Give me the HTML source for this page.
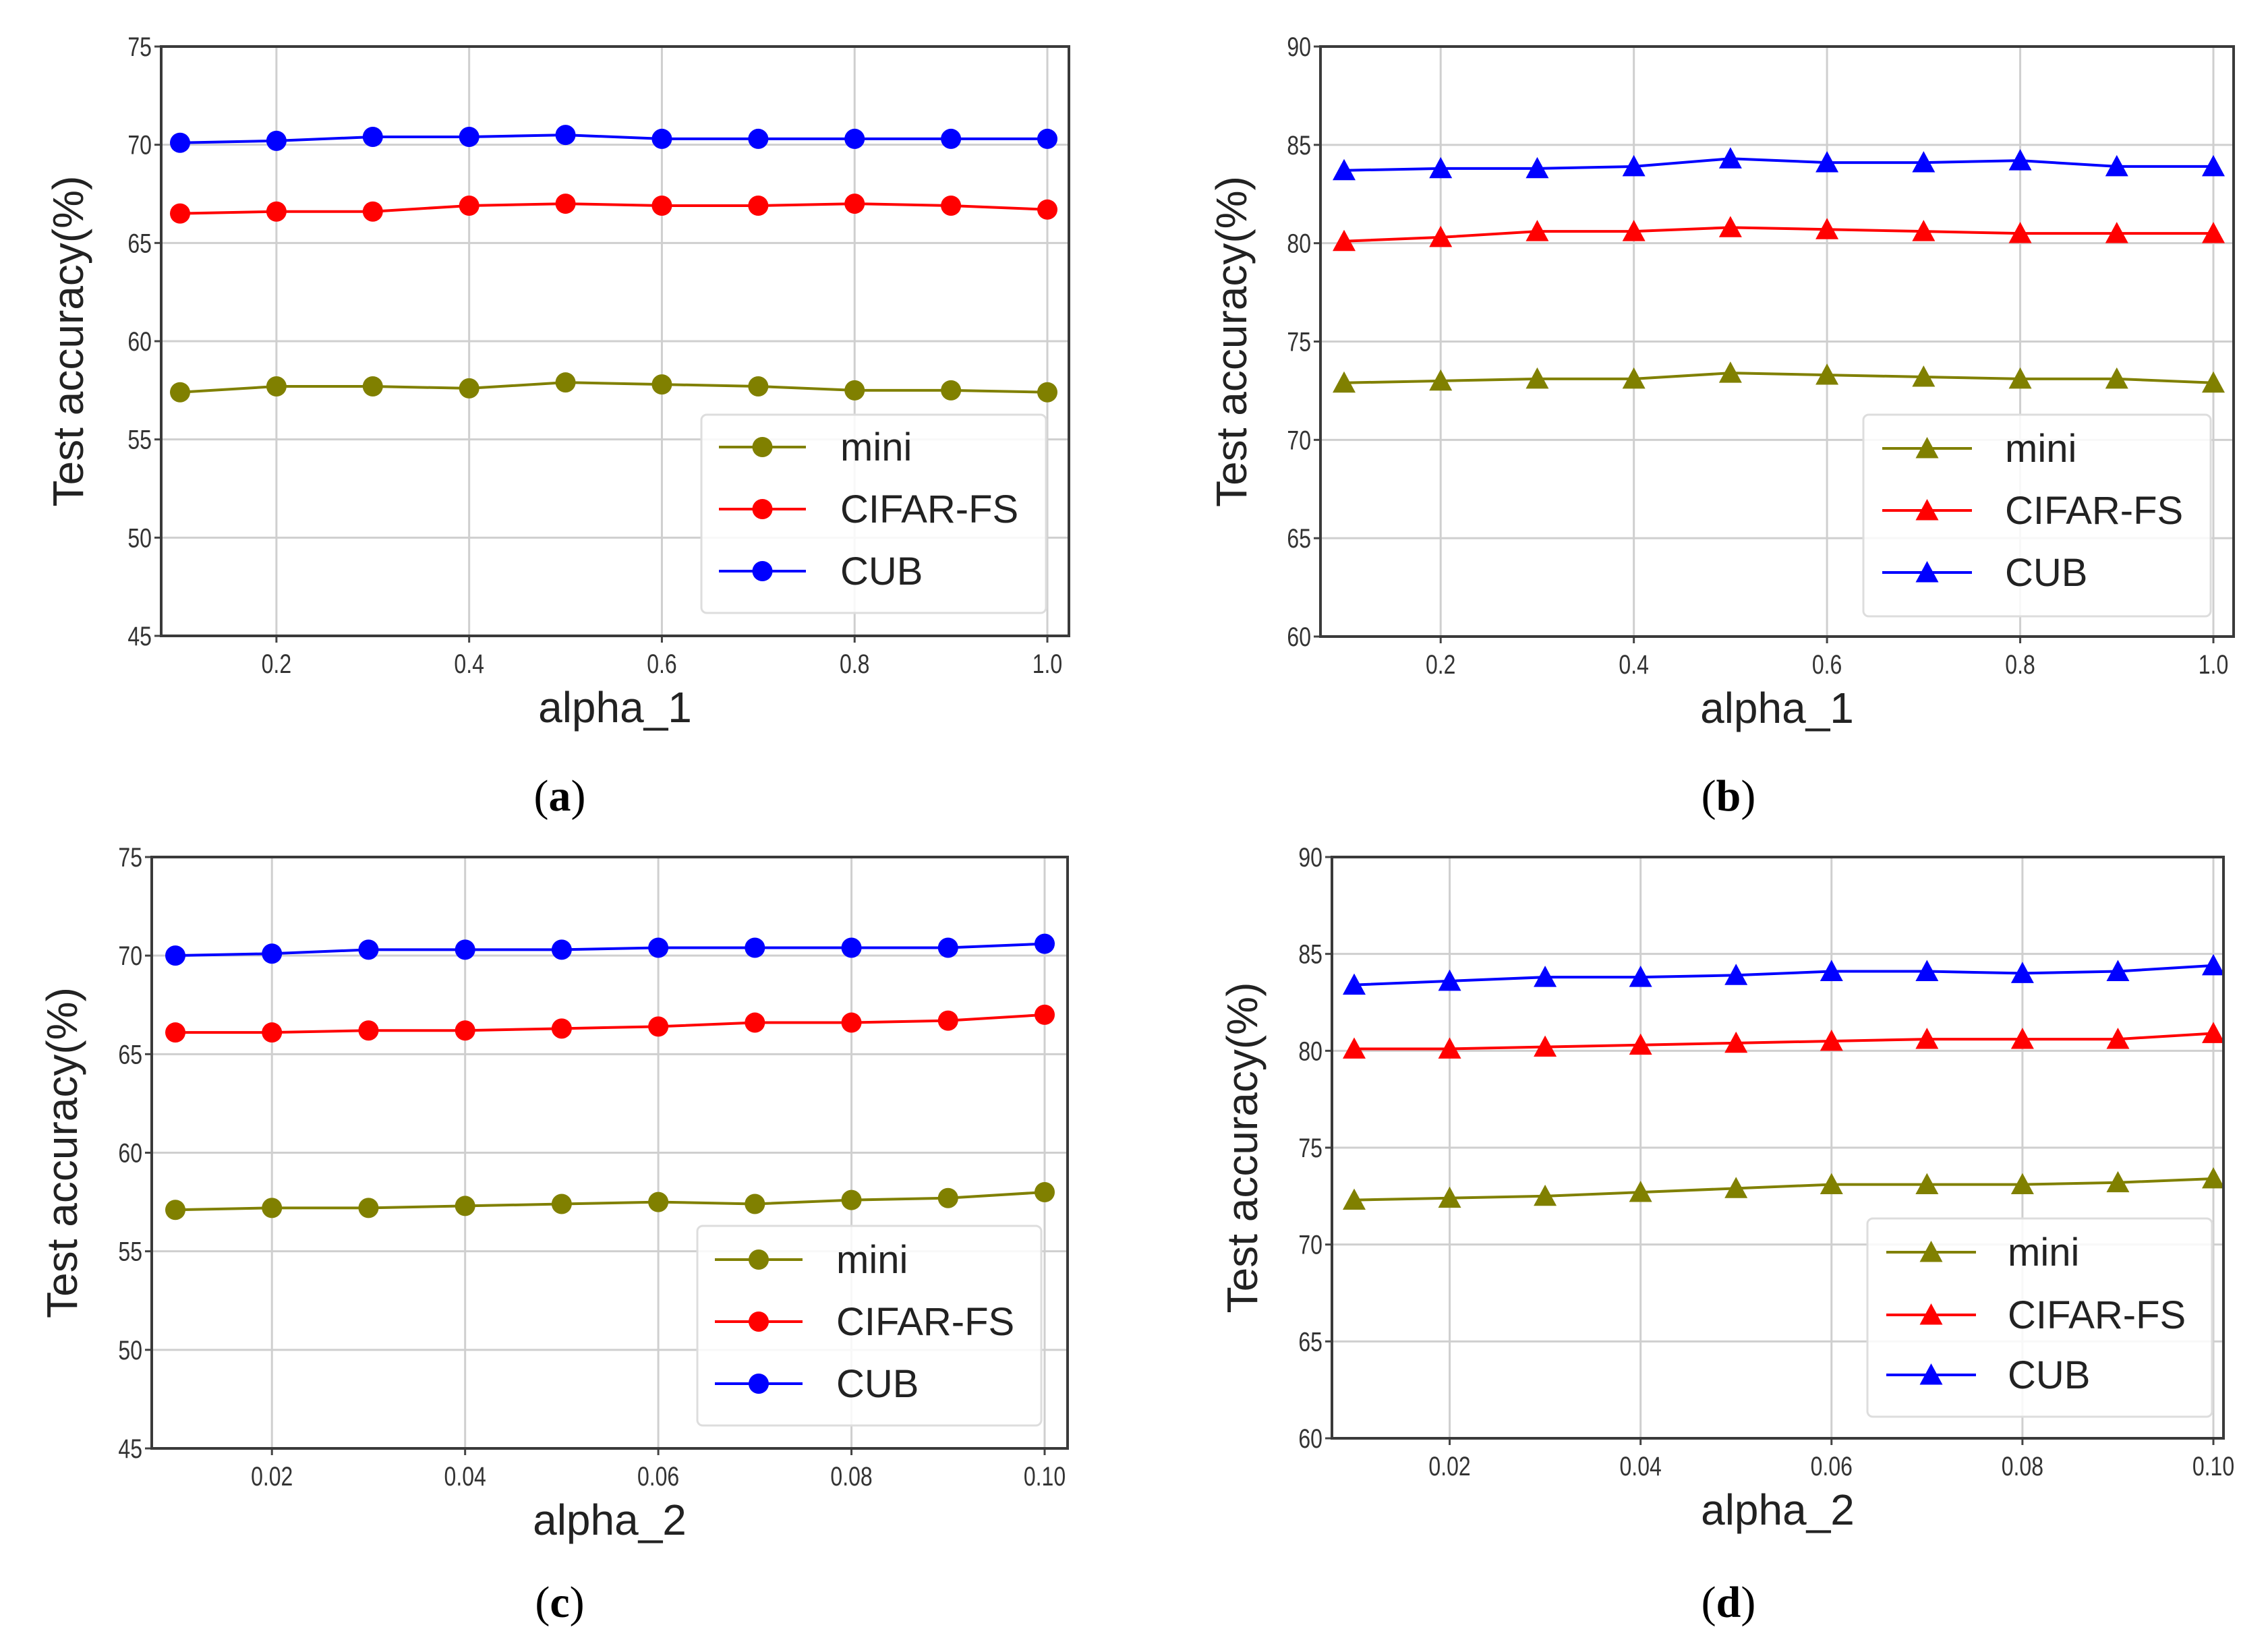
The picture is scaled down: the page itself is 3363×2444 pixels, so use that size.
<!DOCTYPE html>
<html><head><meta charset="utf-8"><style>
html,body{margin:0;padding:0;background:#fff;}
svg{display:block;}
text{font-family:"Liberation Sans","DejaVu Sans",sans-serif;}
</style></head><body>
<svg id="fig" width="3363" height="2444" viewBox="0 0 3363 2444" xmlns="http://www.w3.org/2000/svg"></svg>
<script>
const seriesNames = ["mini","CIFAR-FS","CUB"];
const xA1 = [0.1,0.2,0.3,0.4,0.5,0.6,0.7,0.8,0.9,1.0];
const xA2 = [0.01,0.02,0.03,0.04,0.05,0.06,0.07,0.08,0.09,0.10];
const aMini = [57.4,57.7,57.7,57.6,57.9,57.8,57.7,57.5,57.5,57.4];
const aCifar = [66.5,66.6,66.6,66.9,67.0,66.9,66.9,67.0,66.9,66.7];
const aCub = [70.1,70.2,70.4,70.4,70.5,70.3,70.3,70.3,70.3,70.3];
const bMini = [72.9,73.0,73.1,73.1,73.4,73.3,73.2,73.1,73.1,72.9];
const bCifar = [80.1,80.3,80.6,80.6,80.8,80.7,80.6,80.5,80.5,80.5];
const bCub = [83.7,83.8,83.8,83.9,84.3,84.1,84.1,84.2,83.9,83.9];
const cMini = [57.1,57.2,57.2,57.3,57.4,57.5,57.4,57.6,57.7,58.0];
const cCifar = [66.1,66.1,66.2,66.2,66.3,66.4,66.6,66.6,66.7,67.0];
const cCub = [70.0,70.1,70.3,70.3,70.3,70.4,70.4,70.4,70.4,70.6];
const dMini = [72.3,72.4,72.5,72.7,72.9,73.1,73.1,73.1,73.2,73.4];
const dCifar = [80.1,80.1,80.2,80.3,80.4,80.5,80.6,80.6,80.6,80.9];
const dCub = [83.4,83.6,83.8,83.8,83.9,84.1,84.1,84.0,84.1,84.4];
const yTicksA = [45,50,55,60,65,70,75];
const yTicksB = [60,65,70,75,80,85,90];
const xTicks1 = [0.2,0.4,0.6,0.8,1.0];
const xTickLabels1 = ["0.2","0.4","0.6","0.8","1.0"];
const xTicks2 = [0.02,0.04,0.06,0.08,0.10];
const xTickLabels2 = ["0.02","0.04","0.06","0.08","0.10"];

const colors = ["#808000","#ff0000","#0000ff"];
const NS = "http://www.w3.org/2000/svg";
const fig = document.getElementById("fig");
function mk(tag, attrs, parent){const e=document.createElementNS(NS,tag);for(const k in attrs)e.setAttribute(k,attrs[k]);(parent||fig).appendChild(e);return e;}

const panels = [
 {id:"a",L:239,R:1585,T:69,B:943,x0:0.1,px0:267,x1:1.0,px1:1553,ymin:45,ymax:75,yt:yTicksA,xt:xTicks1,xl:xTickLabels1,xs:xA1,data:[aMini,aCifar,aCub],marker:"circle",xlabel:"alpha_1",ylx:101,leg:[1040,615,511,294],legLine:[1066,1195],legText:1246,legY:[663,755,847],capX:830,capY:1180},
 {id:"b",L:1958,R:3312,T:69,B:944,x0:0.1,px0:1993,x1:1.0,px1:3282,ymin:60,ymax:90,yt:yTicksB,xt:xTicks1,xl:xTickLabels1,xs:xA1,data:[bMini,bCifar,bCub],marker:"triangle",xlabel:"alpha_1",ylx:1826,leg:[2763,615,515,299],legLine:[2791,2924],legText:2973,legY:[665,757,849],capX:2563,capY:1180},
 {id:"c",L:225,R:1583,T:1271,B:2148,x0:0.01,px0:260,x1:0.10,px1:1549,ymin:45,ymax:75,yt:yTicksA,xt:xTicks2,xl:xTickLabels2,xs:xA2,data:[cMini,cCifar,cCub],marker:"circle",xlabel:"alpha_2",ylx:92,leg:[1034,1818,510,296],legLine:[1060,1190],legText:1240,legY:[1868,1960,2052],capX:830,capY:2376},
 {id:"d",L:1975,R:3297,T:1271,B:2133,x0:0.01,px0:2008,x1:0.10,px1:3282,ymin:60,ymax:90,yt:yTicksB,xt:xTicks2,xl:xTickLabels2,xs:xA2,data:[dMini,dCifar,dCub],marker:"triangle",xlabel:"alpha_2",ylx:1842,leg:[2769,1807,511,294],legLine:[2797,2930],legText:2977,legY:[1857,1950,2039],capX:2563,capY:2376}
];

function marker(g,type,cx,cy,col){
  if(type==="circle") return mk("circle",{cx:cx,cy:cy,r:15,fill:col},g);
  const s=17;
  return mk("polygon",{points:`${cx},${cy-s} ${cx-s},${cy+s*0.85} ${cx+s},${cy+s*0.85}`,fill:col},g);
}

panels.forEach(p=>{
  const g=mk("g",{});
  
  
  const xS=v=>p.px0+(v-p.x0)*(p.px1-p.px0)/(p.x1-p.x0);
  const yS=v=>p.B-(v-p.ymin)*(p.B-p.T)/(p.ymax-p.ymin);
  p.yt.forEach(t=>{
    const y=yS(t);
    const gl=mk("line",{x1:p.L,x2:p.R,y1:y,y2:y,stroke:"#cfcfcf","stroke-width":3},g);
    
    
    mk("line",{x1:p.L-10,x2:p.L,y1:y,y2:y,stroke:"#444","stroke-width":3},g);
    const tl=mk("text",{x:p.L-14,y:y+14,"text-anchor":"end","font-size":40,fill:"#333",transform:`translate(${p.L-14},0) scale(0.8,1) translate(${-(p.L-14)},0)`},g);
    tl.textContent=t;
    
    
  });
  p.xt.forEach((t,i)=>{
    const x=xS(t);
    const gl=mk("line",{x1:x,x2:x,y1:p.T,y2:p.B,stroke:"#cfcfcf","stroke-width":3},g);
    
    
    mk("line",{x1:x,x2:x,y1:p.B,y2:p.B+10,stroke:"#444","stroke-width":3},g);
    const tl=mk("text",{x:x,y:p.B+55,"text-anchor":"middle","font-size":40,fill:"#333",transform:`translate(${x},0) scale(0.8,1) translate(${-x},0)`},g);
    tl.textContent=p.xl[i];
    
    
  });
  p.data.forEach((arr,si)=>{
    const sg=mk("g",{},g);
    
    
    const pts=arr.map((v,i)=>xS(p.xs[i])+","+yS(v)).join(" ");
    mk("polyline",{points:pts,fill:"none",stroke:colors[si],"stroke-width":4},sg);
    arr.forEach((v,i)=>{
      const m=marker(sg,p.marker,xS(p.xs[i]),yS(v),colors[si]);
      
      
    });
  });
  const fr=mk("rect",{x:p.L,y:p.T,width:p.R-p.L,height:p.B-p.T,fill:"none",stroke:"#3a3a3a","stroke-width":4},g);
  
  
  const lg=mk("g",{},g);
  
  
  mk("rect",{x:p.leg[0],y:p.leg[1],width:p.leg[2],height:p.leg[3],rx:8,fill:"#fff","fill-opacity":0.85,stroke:"#dddddd","stroke-width":3},lg);
  seriesNames.forEach((n,si)=>{
    const eg=mk("g",{},lg);
    
    
    const y=p.legY[si];
    mk("line",{x1:p.legLine[0],x2:p.legLine[1],y1:y,y2:y,stroke:colors[si],"stroke-width":4},eg);
    marker(eg,p.marker,(p.legLine[0]+p.legLine[1])/2,y,colors[si]);
    const t=mk("text",{x:p.legText,y:y+20,"font-size":58,fill:"#222"},eg);
    t.textContent=n;
  });
  const xl=mk("text",{x:(p.L+p.R)/2,y:p.B+128,"text-anchor":"middle","font-size":64,fill:"#222"},g);
  xl.textContent=p.xlabel;
  
  
  const yc=(p.T+p.B)/2;
  const yl=mk("text",{x:p.ylx,y:yc,"text-anchor":"middle","font-size":64,fill:"#222",transform:`rotate(-90 ${p.ylx} ${yc})`,"dominant-baseline":"central"},g);
  yl.textContent="Test accuracy(%)";
  
  
  const cap=mk("text",{x:p.capX,y:p.capY+22,"text-anchor":"middle","font-size":66,fill:"#000",style:"font-family:'Liberation Serif',serif"},g);
  cap.innerHTML='(<tspan font-weight="bold">'+p.id+'</tspan>)';
  
  
});
</script>
</body></html>
